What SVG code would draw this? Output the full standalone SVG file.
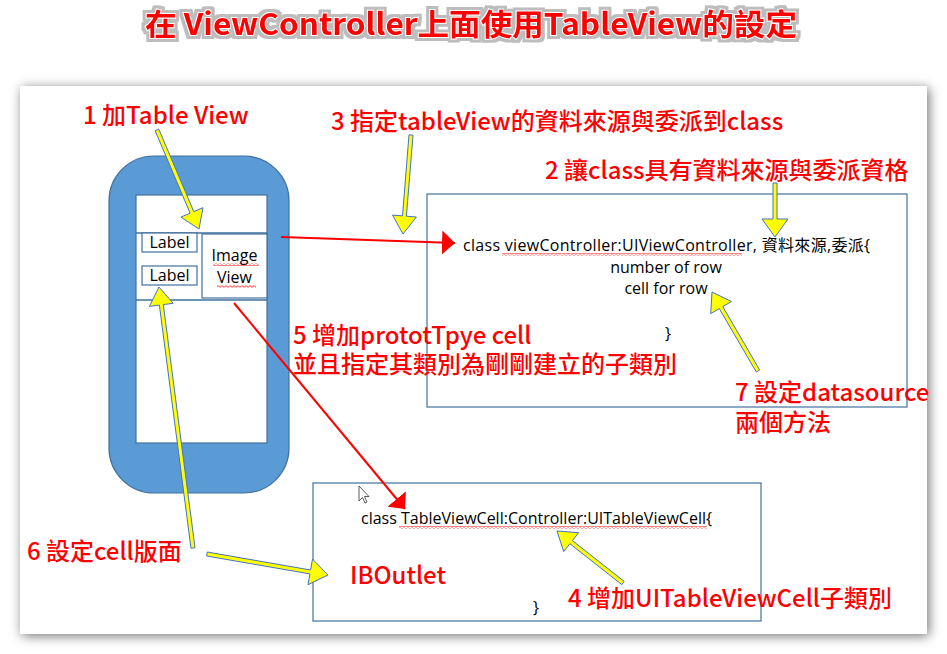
<svg xmlns="http://www.w3.org/2000/svg" width="947" height="654" viewBox="0 0 947 654">
<style>
.red{font-family:"Noto Sans CJK TC","Noto Sans CJK SC",sans-serif;font-size:24px;font-weight:500;fill:#FF0000}
.code{font-family:"Open Sans","Noto Sans CJK TC",sans-serif;font-size:16px;fill:#000}
.box{fill:#fff;stroke:#41719C;stroke-width:1.2}
.yarrow{fill:#FFFF00;stroke:#4472C4;stroke-width:1;stroke-linejoin:round}
.rline{stroke:#FF0000;stroke-width:2;fill:none}
</style>
<defs>
<filter id="shadow" x="-5%" y="-5%" width="110%" height="110%">
<feDropShadow dx="2" dy="2" stdDeviation="6" flood-color="#000" flood-opacity="0.55"/>
</filter>
<filter id="glow" x="-5%" y="-20%" width="110%" height="140%">
<feMorphology in="SourceAlpha" operator="dilate" radius="2.5" result="d"/>
<feFlood flood-color="#bdbdbd"/>
<feComposite in2="d" operator="in" result="g"/>
<feMerge><feMergeNode in="g"/><feMergeNode in="SourceGraphic"/></feMerge>
</filter>
<marker id="rhead" viewBox="0 0 13 24" refX="13" refY="12" markerWidth="13" markerHeight="24" markerUnits="userSpaceOnUse" orient="auto">
<path d="M0,0 L13,12 L0,24 Z" fill="#FF0000"/>
</marker>
<pattern id="squig" width="4" height="3" patternUnits="userSpaceOnUse">
<path d="M0,2.3 L2,0.7 L4,2.3" stroke="#FF0000" stroke-width="0.8" fill="none"/>
</pattern>
</defs>

<rect width="947" height="654" fill="#fff"/>

<g id="title">
<text x="145" y="35" textLength="652" lengthAdjust="spacingAndGlyphs" filter="url(#glow)" style="font-family:'Noto Sans CJK TC','Noto Sans CJK SC',sans-serif;font-size:30px;font-weight:700;fill:#FF0000;stroke:#fff;stroke-width:2;paint-order:stroke">在 ViewController上面使用TableView的設定</text>
</g>

<g id="panel">
<rect x="20" y="86" width="907" height="548" fill="#fff" filter="url(#shadow)"/>
</g>

<g id="phone">
<rect x="109" y="156" width="180" height="337" rx="45" ry="45" fill="#5B9BD5" stroke="#41719C" stroke-width="1.2"/>
<rect x="136" y="195" width="131" height="248" class="box"/>
<line x1="136" y1="233" x2="267" y2="233" stroke="#41719C" stroke-width="1.5"/>
<line x1="136" y1="300" x2="267" y2="300" stroke="#41719C" stroke-width="1.5"/>
</g>
<g id="label1">
<rect x="142" y="233" width="55" height="19" class="box"/>
<text x="169.5" y="248" text-anchor="middle" class="code">Label</text>
</g>
<g id="label2">
<rect x="142" y="266" width="55" height="19" class="box"/>
<text x="169.5" y="281" text-anchor="middle" class="code">Label</text>
</g>
<g id="imageview">
<rect x="202" y="234" width="65" height="64" class="box"/>
<text x="234.5" y="261" text-anchor="middle" class="code">Image</text>
<text x="234.5" y="283" text-anchor="middle" class="code">View</text>
<rect x="213" y="263" width="46" height="3" fill="url(#squig)"/>
<rect x="217" y="285" width="39" height="3" fill="url(#squig)"/>
</g>

<g id="viewcontroller-class">
<rect x="427" y="194" width="480" height="213" class="box"/>
<text x="463" y="251" textLength="407" class="code">class viewController:UIViewController, 資料來源,委派{</text>
<rect x="502" y="253" width="240" height="3" fill="url(#squig)"/>
<text x="666" y="273" text-anchor="middle" class="code">number of row</text>
<text x="666" y="294" text-anchor="middle" class="code">cell for row</text>
<text x="665" y="339" class="code">}</text>
</g>

<g id="tableviewcell-class">
<rect x="313" y="483" width="448" height="138" class="box"/>
<text x="361" y="524" textLength="351" class="code">class TableViewCell:Controller:UITableViewCell{</text>
<rect x="399" y="526" width="308" height="3" fill="url(#squig)"/>
<text x="350" y="584" class="red">IBOutlet</text>
<text x="533" y="613" class="code">}</text>
</g>

<g id="cursor">
<path d="M359,486 L359,501 L362.5,497.5 L365,503 L367,502 L364.5,496.5 L369,496.5 Z" fill="#fff" stroke="#333" stroke-width="0.8" stroke-linejoin="round"/>
</g>

<g id="annotations">
<text x="83" y="124" class="red">1 加Table View</text>
<text x="331" y="130" class="red">3 指定tableView的資料來源與委派到class</text>
<text x="545" y="179" class="red">2 讓class具有資料來源與委派資格</text>
<text x="293" y="344" class="red">5 增加prototTpye cell</text>
<text x="293" y="373" class="red">並且指定其類別為剛剛建立的子類別</text>
<text x="735" y="401" class="red">7 設定datasource</text>
<text x="735" y="431" class="red">兩個方法</text>
<text x="27" y="560" class="red">6 設定cell版面</text>
<text x="568" y="607" class="red">4 增加UITableViewCell子類別</text>
</g>

<g id="connectors">
<line x1="281" y1="237" x2="455" y2="243" class="rline" marker-end="url(#rhead)"/>
<line x1="234" y1="303" x2="405" y2="509" class="rline" marker-end="url(#rhead)"/>
<path class="yarrow" d="M155.2,130.8 L190.1,213.2 L180.9,217.1 L199,229 L203,207.7 L193.8,211.6 L158.8,129.2 Z"/>
<path class="yarrow" d="M409,134.8 L402.5,215.9 L392.5,215.1 L403,234 L416.4,217 L406.4,216.2 L413,135.2 Z"/>
<path class="yarrow" d="M773,183 L773,219 L762,219 L775,237 L788,219 L777,219 L777,183 Z"/>
<path class="yarrow" d="M759.7,370 L722.8,306.6 L731.4,301.5 L712,292 L710.7,313.6 L719.3,308.6 L756.3,372 Z"/>
<path class="yarrow" d="M195,547.7 L163.3,304.6 L173.2,303.3 L159,287 L149.4,306.4 L159.4,305.1 L191,548.3 Z"/>
<path class="yarrow" d="M206.7,556 L309.9,573.9 L308,584.7 L328,575 L312.5,559.1 L310.6,570 L207.3,552 Z"/>
<path class="yarrow" d="M624.2,581.4 L572.4,540.6 L578.6,532.7 L557,531 L563.7,551.6 L569.9,543.7 L621.8,584.6 Z"/>
</g>
</svg>
